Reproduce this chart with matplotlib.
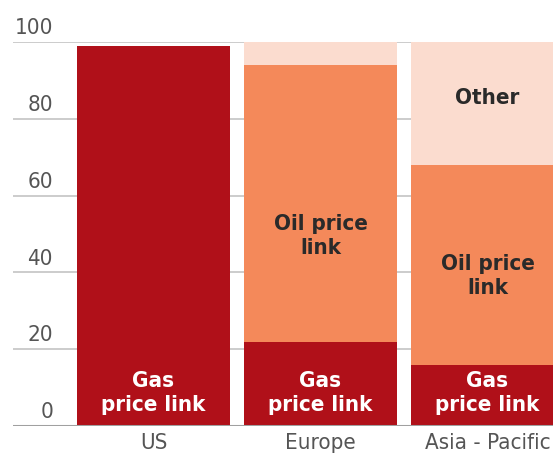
import matplotlib
matplotlib.use("Agg")
import matplotlib.pyplot as plt
import numpy as np

# ---- data ----
regions = ["US", "Europe", "Asia - Pacific"]
gas_link = [99, 22, 16]
oil_link = [0, 72, 52]
other = [0, 6, 32]
y_ticks = [0, 20, 40, 60, 80, 100]

GAS_COL = "#b01019"
OIL_COL = "#f4895a"
OTH_COL = "#fbdccf"
FONT = ["DejaVu Sans"]

fig = plt.figure(figsize=(5.53, 4.55), dpi=100)
ax = fig.add_axes([13 / 553, 29 / 455, 540 / 553, 384 / 455])

x = np.arange(len(regions))
w = 153 / 167
gas = np.array(gas_link)
oil = np.array(oil_link)
oth = np.array(other)

ax.bar(x, gas, width=w, color=GAS_COL, zorder=2)
ax.bar(x, oil, width=w, bottom=gas, color=OIL_COL, zorder=2)
ax.bar(x, oth, width=w, bottom=gas + oil, color=OTH_COL, zorder=2)

ax.set_xlim(-140.5 / 167, 399.5 / 167)
ax.set_ylim(0, 100)

# grid
ax.set_yticks(y_ticks)
ax.yaxis.grid(True, color="#c8c8c8", lw=1.3)
ax.set_axisbelow(True)
ax.axhline(0, color="#a0a0a0", lw=2.2, zorder=3)
ax.tick_params(left=False, bottom=False, labelleft=False, labelbottom=False)
for s in ax.spines.values():
    s.set_visible(False)

# y tick labels sitting on the lines
for t in y_ticks:
    ax.text(-100.5 / 167, t + 1.0, str(t), ha="right", va="bottom",
            fontsize=16, color="#555555", family=FONT, stretch="condensed")

# region labels
for i, r in enumerate(regions):
    ax.text(i, -1.8, r, ha="center", va="top", fontsize=16,
            color="#555555", family=FONT, stretch="condensed", clip_on=False)

# segment labels
lbl = dict(ha="center", va="center", fontsize=16, fontweight="bold",
           family=FONT, stretch="condensed", linespacing=1.25, zorder=4)
for i in range(3):
    ax.text(i, 8.6, "Gas\nprice link", color="white", **lbl)
ax.text(1, 49.5, "Oil price\nlink", color="#2a2a2a", **lbl)
ax.text(2, 39, "Oil price\nlink", color="#2a2a2a", **lbl)
ax.text(2, 85.4, "Other", color="#2a2a2a", **lbl)

fig.savefig("out.png", dpi=100)
